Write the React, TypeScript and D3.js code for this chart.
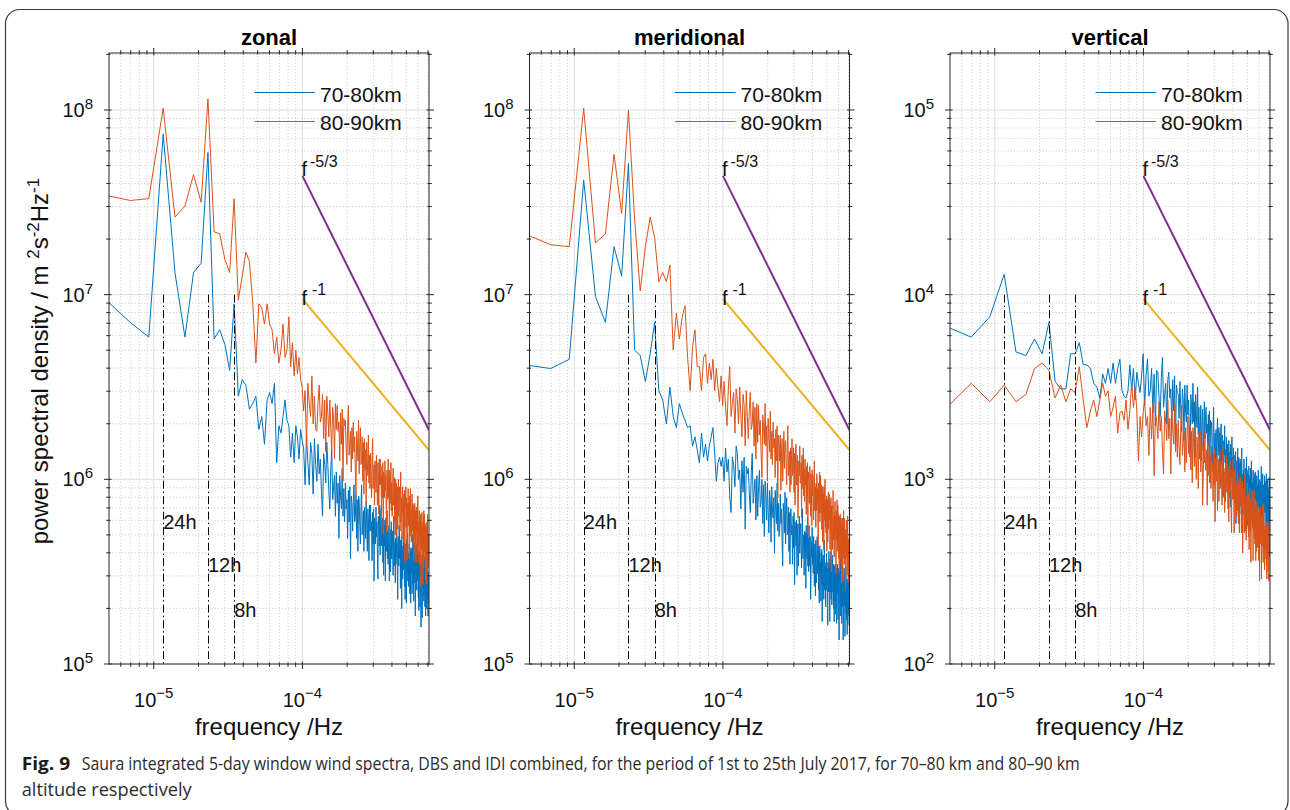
import React from 'react';
import * as d3 from 'd3';

// frequency bins: 5-day window => df = 1/(5 days); first bin index 2
const DF = 1 / (5 * 86400);
const K0 = 2;

// log10(PSD) x 100 (bins k = 2 .. 306)
const zonal7080 = [698,685,677,787,712,677,712,717,777,676,681,673,659,695,645,654,651,638,641,645,627,634,619,643,647,641,652,609,629,625,634,643,632,629,612,625,609,629,623,611,627,621,
617,597,624,609,597,620,614,592,622,608,599,619,603,611,593,580,614,608,598,620,608,594,584,605,616,589,596,602,580,604,587,598,568,602,591,584,606,580,595,577,
598,584,589,568,594,577,596,557,591,587,572,588,597,577,580,592,568,589,561,591,589,575,565,586,597,570,577,583,561,585,581,568,588,573,561,584,578,556,586,572,
586,572,577,556,582,565,584,545,579,575,565,585,569,577,559,546,580,574,564,586,559,575,584,564,567,579,555,576,548,578,564,575,545,579,568,561,583,557,572,554,
561,575,545,567,573,550,562,577,557,570,572,558,548,569,580,553,560,566,544,568,554,574,558,566,548,535,569,563,553,575,571,557,562,541,567,550,569,530,564,560,
546,562,571,551,554,566,542,563,535,565,552,563,533,567,556,549,571,545,560,542,558,545,565,550,538,561,555,533,563,549,562,548,538,559,570,543,550,556,534,558,
566,544,554,560,526,539,557,549,565,545,540,556,565,545,548,560,536,557,529,559,561,547,552,531,557,540,559,520,554,550,544,555,525,559,548,541,563,537,552,534,
551,538,558,543,531,554,548,526,556,542,554,540,530,551,562,535,542,548,526,550,533,549,538];
const zonal8090 = [754,751,752,801,742,748,765,750,806,734,733,719,712,752,697,710,723,718,696,663,695,693,684,695,684,681,668,677,663,670,684,666,670,688,661,674,656,670,657,666,654,650,
637,648,618,652,641,634,656,630,645,627,626,642,651,631,634,646,622,643,615,645,636,623,643,628,616,639,633,611,641,627,640,626,631,610,636,619,638,599,633,629,
632,618,608,629,640,613,620,626,604,628,611,631,615,623,605,592,626,620,610,632,603,619,628,608,611,623,599,620,592,622,605,616,586,620,609,602,624,598,613,595,
614,600,590,611,622,595,602,608,586,610,606,593,613,598,586,609,603,581,611,597,611,597,602,581,607,590,609,570,604,600,590,610,594,602,584,571,605,599,589,611,
590,601,571,605,594,587,609,583,598,580,581,597,606,586,589,601,577,598,570,600,584,598,568,590,596,573,585,600,580,593,596,582,572,593,604,577,584,590,568,592,
596,582,587,566,592,575,594,555,589,585,596,574,584,590,556,569,587,579,595,575,576,587,557,591,580,573,595,569,584,566,567,583,592,572,575,587,563,584,556,586,
580,567,587,572,560,583,577,555,585,571,583,569,559,580,591,564,571,577,555,579,583,569,574,553,579,562,581,542,576,572,562,582,566,574,556,543,577,571,561,583,
556,572,581,561,564,576,552,573,545,575,562,573,543,577,566,559,581,555,570,552,570,556,563];
const meridional7080 = [662,660,665,762,699,685,726,710,771,670,667,653,668,685,648,643,630,650,634,628,641,636,632,628,629,618,623,616,609,625,612,619,610,618,623,628,614,599,609,612,607,612,
599,617,604,611,591,582,612,608,596,618,614,600,605,584,610,593,612,573,607,603,606,592,582,603,614,587,594,600,578,602,580,596,605,585,588,600,576,597,569,599,
591,578,598,583,571,594,588,566,596,582,579,590,560,594,583,576,598,572,587,569,572,592,576,584,566,553,587,581,571,593,565,581,590,570,573,585,561,582,554,584,
584,570,575,554,580,563,582,543,577,573,564,578,548,570,576,553,565,580,560,573,576,562,552,573,584,557,564,570,548,572,560,571,541,575,564,557,579,553,568,550,
575,553,563,569,535,548,566,558,574,554,562,549,569,554,542,565,559,537,567,553,544,560,569,549,552,564,540,561,533,563,564,550,555,534,560,543,562,523,557,553,
559,545,535,556,567,540,547,553,531,555,540,560,544,552,534,521,555,549,539,561,542,553,523,557,546,539,561,535,550,532,534,550,559,539,542,554,530,551,523,553,
547,534,554,539,527,550,544,522,552,538,554,540,545,524,550,533,552,513,547,543,550,536,526,547,558,531,538,544,522,546,553,531,541,547,513,526,544,536,552,532,
534,545,515,549,538,531,553,527,542,524,532,546,516,538,544,521,533,548,528,541,526,540,530];
const meridional8090 = [733,727,726,801,728,733,776,744,800,741,702,726,742,731,707,712,707,716,670,690,676,688,694,666,648,672,681,661,661,648,666,668,652,663,654,665,648,660,650,642,656,640,
653,639,629,650,661,634,641,647,625,649,643,630,650,635,623,646,640,618,648,634,622,638,647,627,630,642,618,639,611,641,620,640,624,632,614,601,635,629,619,641,
618,629,599,633,622,615,637,611,626,608,631,617,622,601,627,610,629,590,624,620,610,624,594,616,622,599,611,626,606,619,621,607,597,618,629,602,609,615,593,617,
597,613,622,602,605,617,593,614,586,616,619,597,607,613,579,592,610,602,618,598,598,609,579,613,602,595,617,591,606,588,611,597,602,581,607,590,609,570,604,600,
600,587,607,592,580,603,597,575,605,591,602,588,578,599,610,583,590,596,574,598,583,603,587,595,577,564,598,592,582,604,577,593,602,582,585,597,573,594,566,596,
581,592,562,596,585,578,600,574,589,571,577,591,561,583,589,566,578,593,573,586,592,578,583,562,588,571,590,551,585,581,586,572,562,583,594,567,574,580,558,582,
568,588,572,580,562,549,583,577,567,589,561,577,586,566,569,581,557,578,550,580,574,561,581,566,554,577,571,549,579,565,564,575,545,579,568,561,583,557,572,554,
579,557,567,573,539,552,570,562,578,558,572,558,548,569,580,553,560,566,544,568,552,566,555];
const vertical7080 = [383,377,388,411,369,367,376,368,385,353,349,349,368,368,374,362,362,360,352,350,344,357,352,360,352,363,352,360,365,348,345,344,348,362,348,360,343,358,352,347,356,368,
340,356,365,345,348,360,336,357,329,359,358,344,334,355,366,339,346,352,330,354,358,344,349,328,354,337,356,317,351,347,346,333,353,338,326,349,343,321,351,337,
331,351,335,343,325,312,346,340,330,352,331,342,312,346,335,328,350,324,339,321,326,340,310,332,338,315,327,342,322,335,339,325,330,309,335,318,337,298,332,328,
331,317,307,328,339,312,319,325,303,327,308,324,333,313,316,328,304,325,297,327,330,308,318,324,290,303,321,313,329,309,316,303,323,308,296,319,313,291,321,307,
304,315,285,319,308,301,323,297,312,294,317,303,308,287,313,296,315,276,310,306,292,308,317,297,300,312,288,309,281,311,309,295,285,306,317,290,297,303,281,305,
291,311,295,303,285,272,306,300,290,312,291,305,275,297,303,280,292,307,287,300,291,302,272,306,295,288,310,284,299,281,298,285,305,290,278,301,295,273,303,289,
304,290,295,274,300,283,302,263,297,293,280,296,305,285,288,300,276,297,269,299,299,285,275,296,307,280,287,293,271,295,303,281,291,297,263,276,294,286,302,282,
284,295,265,299,288,281,303,277,292,274,280,300,284,292,274,261,295,289,279,301,278,291,272];
const vertical8090 = [338,352,342,351,342,346,360,363,359,344,351,342,349,347,361,343,328,337,343,334,343,352,345,348,334,339,345,325,336,337,332,343,327,337,352,339,350,337,310,334,323,336,
343,329,334,313,339,322,341,302,336,332,322,342,326,334,316,303,337,331,321,343,322,333,303,337,326,319,341,315,330,312,332,318,308,329,340,313,320,326,304,328,
309,325,334,314,317,329,305,326,298,328,320,307,327,312,300,323,317,295,325,311,326,304,314,320,286,299,317,309,325,305,305,316,286,320,309,302,324,298,313,295,
318,304,309,288,314,297,316,277,311,307,299,313,283,305,311,288,300,315,295,308,310,296,286,307,318,291,298,304,282,306,288,304,313,293,296,308,284,305,277,307,
290,310,294,302,284,271,305,299,289,311,290,301,271,305,294,287,309,283,298,280,296,283,303,288,276,299,293,271,301,287,301,287,292,271,297,280,299,260,294,290,
295,281,271,292,303,276,283,289,267,291,273,289,298,278,281,293,269,290,262,292,295,273,283,289,255,268,286,278,294,274,275,286,256,290,279,272,294,268,283,265,
272,286,256,278,284,261,273,288,268,281,286,272,277,256,282,265,284,245,279,275,265,285,269,277,259,246,280,274,264,286,279,265,255,276,287,260,267,273,251,275,
257,273,282,262,265,277,253,274,246,276,270,257,277,262,250,273,267,245,275,261,258,270,262];

const panelTitles = ['zonal', 'meridional', 'vertical'];
const series7080 = [zonal7080, meridional7080, vertical7080];
const series8090 = [zonal8090, meridional8090, vertical8090];
const legendLabels = ['70-80km', '80-90km'];
const xDomain = [5e-6, 7.1e-4];
const xTickExps = [-5, -4];
const yDomains = [[1e5, 2.035e8], [1e5, 2.035e8], [1e2, 2.035e5]];
const yTickExps = [[5, 6, 7, 8], [5, 6, 7, 8], [2, 3, 4, 5]];
// reference slope lines (f^-5/3, f^-1), endpoints
const refFreqs = [1e-4, 7.1e-4];
const f53Values = [[4.4e7, 1.85e6], [4.4e7, 1.85e6], [4.4e4, 1.85e3]];
const f1Values = [[9.5e6, 1.44e6], [9.5e6, 1.44e6], [9.5e3, 1.44e3]];
// tidal periods
const tidalHours = [24, 12, 8];
const tidalLabels = ['24h', '12h', '8h'];
const tidalTop = [1e7, 1e7, 1e4];
const tidalLabelY = [[5.4e5, 3.16e5, 1.8e5], [5.4e5, 3.16e5, 1.8e5], [5.4e2, 3.16e2, 1.8e2]];

const BLUE = '#0072BD';
const ORANGE = '#D95319';
const PURPLE = '#7E2F8E';
const YELLOW = '#EDB120';
const AXIS = '#262626';
const FONT = "'Liberation Sans', Arial, Helvetica, sans-serif";
const CAPFONT = "'Open Sans', 'Noto Sans', sans-serif";

const panelLeft = [109, 529.5, 950];
const PW = 320;
const TOP = 53;
const BOT = 664;

function Panel({ i }: { i: number }) {
  const L = panelLeft[i];
  const R = L + PW;
  const x = d3.scaleLog().domain(xDomain).range([L, R]);
  const y = d3.scaleLog().domain(yDomains[i]).range([BOT, TOP]);
  const freqs = series7080[i].map((_, j) => (K0 + j) * DF);
  const line = d3
    .line<number>()
    .x((_, j) => x(freqs[j]))
    .y((d) => y(Math.pow(10, d / 100)));
  const [y0, y1] = yDomains[i];

  const xMinor: number[] = [];
  for (let e = -6; e <= -4; e++)
    for (let m = 2; m <= 9; m++) {
      const v = m * Math.pow(10, e);
      if (v >= xDomain[0] && v <= xDomain[1]) xMinor.push(v);
    }
  const xMajor = xTickExps.map((e) => Math.pow(10, e));
  const yMinor: number[] = [];
  const e0 = Math.round(Math.log10(y0));
  for (let e = e0; e <= e0 + 3; e++)
    for (let m = 2; m <= 9; m++) {
      const v = m * Math.pow(10, e);
      if (v > y0 && v < y1) yMinor.push(v);
    }
  const yMajor = yTickExps[i].map((e) => Math.pow(10, e));
  const cx = (L + R) / 2;
  const refLine = d3
    .line<number>()
    .x((_, j) => x(refFreqs[j]))
    .y((d) => y(d));

  return (
    <g>
      <defs>
        <clipPath id={`clip${i}`}>
          <rect x={L} y={TOP} width={PW} height={BOT - TOP} />
        </clipPath>
      </defs>
      {xMinor.map((v) => (
        <line key={`gxm${v}`} x1={x(v)} x2={x(v)} y1={TOP} y2={BOT} stroke="#bdbdbd" strokeWidth={0.8} strokeDasharray="1,2.2" />
      ))}
      {yMinor.map((v) => (
        <line key={`gym${v}`} x1={L} x2={R} y1={y(v)} y2={y(v)} stroke="#bdbdbd" strokeWidth={0.8} strokeDasharray="1,2.2" />
      ))}
      {xMajor.map((v) => (
        <line key={`gx${v}`} x1={x(v)} x2={x(v)} y1={TOP} y2={BOT} stroke="#dedede" strokeWidth={1} />
      ))}
      {yMajor.map((v) => (
        <line key={`gy${v}`} x1={L} x2={R} y1={y(v)} y2={y(v)} stroke="#dedede" strokeWidth={1} />
      ))}
      <g clipPath={`url(#clip${i})`}>
        <path d={line(series7080[i]) || ''} fill="none" stroke={BLUE} strokeWidth={1} strokeLinejoin="round" />
        <path d={line(series8090[i]) || ''} fill="none" stroke={ORANGE} strokeWidth={1} strokeLinejoin="round" />
        {tidalHours.map((h) => {
          const fx = Math.round(x(1 / (h * 3600))) + 0.5;
          return (
            <line key={`t${h}`} x1={fx} x2={fx} y1={y(tidalTop[i])} y2={BOT} stroke="#000" strokeWidth={1} strokeDasharray="8,3,1.5,3" />
          );
        })}
        <path d={refLine(f53Values[i]) || ''} fill="none" stroke={PURPLE} strokeWidth={2} />
        <path d={refLine(f1Values[i]) || ''} fill="none" stroke={YELLOW} strokeWidth={2} />
      </g>
      {tidalHours.map((h, j) => (
        <text key={`tl${h}`} x={x(1 / (h * 3600))} y={y(tidalLabelY[i][j])} fontFamily={FONT} fontSize={20} fill="#111">
          {tidalLabels[j]}
        </text>
      ))}
      <text x={x(refFreqs[0]) - 1} y={y(f53Values[i][0]) + 0.5} fontFamily={FONT} fontSize={20} fill="#111">
        f<tspan dx={3} dy={-9} fontSize={16}>-5/3</tspan>
      </text>
      <text x={x(refFreqs[0]) - 1} y={y(f1Values[i][0]) + 6} fontFamily={FONT} fontSize={20} fill="#111">
        f<tspan dx={5} dy={-10} fontSize={16}>-1</tspan>
      </text>
      <rect x={L} y={TOP} width={PW} height={BOT - TOP} fill="none" stroke={AXIS} strokeWidth={1} />
      {xMajor.map((v) => (
        <g key={`xt${v}`}>
          <line x1={x(v)} x2={x(v)} y1={BOT - 2.5} y2={BOT + 5} stroke={AXIS} />
          <line x1={x(v)} x2={x(v)} y1={TOP + 2.5} y2={TOP - 5} stroke={AXIS} />
        </g>
      ))}
      {xMinor.map((v) => (
        <g key={`xmt${v}`}>
          <line x1={x(v)} x2={x(v)} y1={BOT - 1.5} y2={BOT + 2.8} stroke={AXIS} />
          <line x1={x(v)} x2={x(v)} y1={TOP + 1.5} y2={TOP - 2.8} stroke={AXIS} />
        </g>
      ))}
      {yMajor.map((v) => (
        <g key={`yt${v}`}>
          <line x1={L - 5} x2={L + 2.5} y1={y(v)} y2={y(v)} stroke={AXIS} />
          <line x1={R + 5} x2={R - 2.5} y1={y(v)} y2={y(v)} stroke={AXIS} />
        </g>
      ))}
      {yMinor.map((v) => (
        <g key={`ymt${v}`}>
          <line x1={L - 2.8} x2={L + 1.5} y1={y(v)} y2={y(v)} stroke={AXIS} />
          <line x1={R + 2.8} x2={R - 1.5} y1={y(v)} y2={y(v)} stroke={AXIS} />
        </g>
      ))}
      {xTickExps.map((e) => (
        <text key={`xl${e}`} x={x(Math.pow(10, e))} y={707} textAnchor="middle" fontFamily={FONT} fontSize={20} fill="#111">
          10<tspan dy={-9} fontSize={15}>{'\u2212' + Math.abs(e)}</tspan>
        </text>
      ))}
      {yTickExps[i].map((e) => (
        <text key={`yl${e}`} x={L - 16} y={y(Math.pow(10, e)) + 7} textAnchor="end" fontFamily={FONT} fontSize={20} fill="#111">
          10<tspan dy={-8} fontSize={15}>{e}</tspan>
        </text>
      ))}
      <text x={cx} y={45} textAnchor="middle" fontFamily={FONT} fontWeight="bold" fontSize={22} fill="#000">
        {panelTitles[i]}
      </text>
      <text x={cx} y={735} textAnchor="middle" fontFamily={FONT} fontSize={24} fill="#111">
        frequency /Hz
      </text>
      <line x1={L + 145.5} x2={L + 206} y1={92.5} y2={92.5} stroke={BLUE} strokeWidth={1} />
      <line x1={L + 145.5} x2={L + 206} y1={121.5} y2={121.5} stroke={ORANGE} strokeWidth={1} />
      <text x={L + 211} y={101.5} fontFamily={FONT} fontSize={21} fill="#111">{legendLabels[0]}</text>
      <text x={L + 211} y={130} fontFamily={FONT} fontSize={21} fill="#111">{legendLabels[1]}</text>
    </g>
  );
}

export default function App() {
  return (
    <svg width={1290} height={810} style={{ position: 'absolute', left: 0, top: 0, background: '#fff' }} xmlns="http://www.w3.org/2000/svg">
      <rect x={0} y={0} width={1290} height={810} fill="#fff" />
      <rect x={5.5} y={9.5} width={1282.5} height={806} rx={14} fill="none" stroke="#3a3a3a" strokeWidth={1.2} />
      {[0, 1, 2].map((i) => (
        <Panel key={i} i={i} />
      ))}
      <text transform="translate(48,361) rotate(-90)" textAnchor="middle" fontFamily={FONT} fontSize={24} fill="#111">
        power spectral density / m <tspan dy={-9} fontSize={17}>2</tspan>
        <tspan dy={9} fontSize={24}>s</tspan>
        <tspan dy={-9} fontSize={17}>-2</tspan>
        <tspan dy={9} fontSize={24}>Hz</tspan>
        <tspan dy={-9} fontSize={17}>-1</tspan>
      </text>
      <text x={21.7} y={770} fontFamily={CAPFONT} fontWeight="bold" fontSize={18.5} fill="#1a1a1a" textLength={48.5} lengthAdjust="spacingAndGlyphs">
        Fig. 9
      </text>
      <text x={81.7} y={770} fontFamily={CAPFONT} fontSize={18.5} fill="#2b2b2b" textLength={998} lengthAdjust="spacingAndGlyphs">
        Saura integrated 5-day window wind spectra, DBS and IDI combined, for the period of 1st to 25th July 2017, for 70–80 km and 80–90 km
      </text>
      <text x={21.7} y={796} fontFamily={CAPFONT} fontSize={18.5} fill="#2b2b2b" textLength={170} lengthAdjust="spacingAndGlyphs">
        altitude respectively
      </text>
    </svg>
  );
}
